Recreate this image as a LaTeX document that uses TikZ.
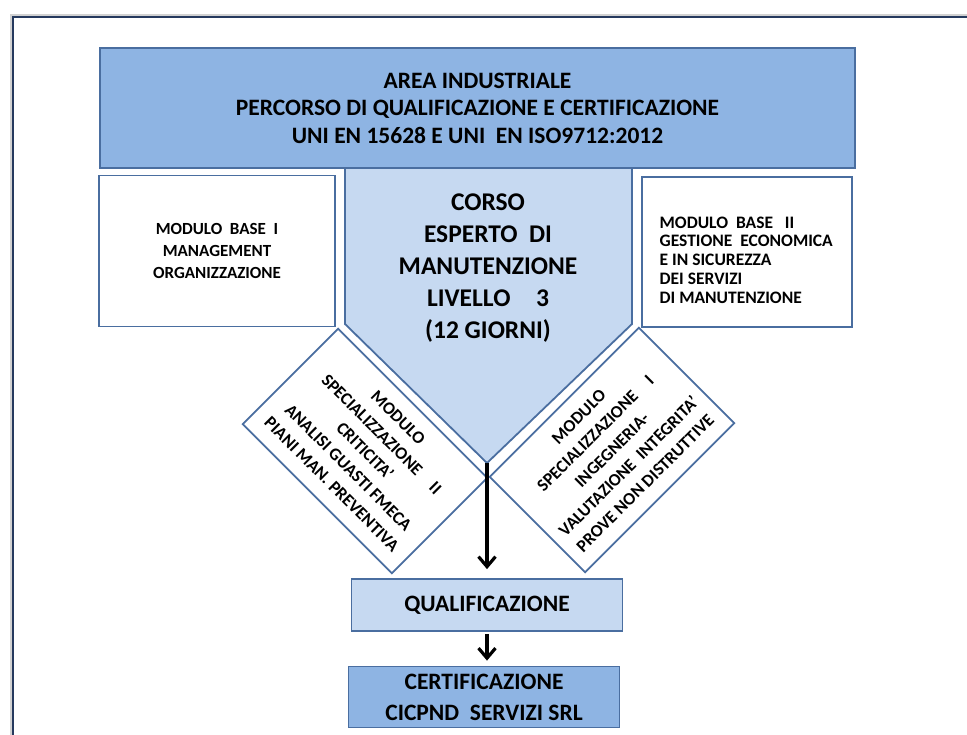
\documentclass[tikz,border=0pt]{standalone}
\usepackage{fontspec}
\setmainfont{Carlito}
\usetikzlibrary{
  arrows.meta,
  positioning,
  shadows
}
\definecolor{framenavy}{RGB}{38,58,94}
\definecolor{boxline}{RGB}{74,110,160}
\definecolor{midblue}{RGB}{142,180,227}
\definecolor{paleblue}{RGB}{198,217,241}

\begin{document}
\begin{tikzpicture}[
      x=1pt, y=-1pt,
      headbox/.style={
         rectangle,
         draw=boxline,
         line width=1.8pt,
         fill=midblue,
         align=center,
         inner sep=0pt,
         font=\bfseries\fontsize{23.5}{27.5}\selectfont
      },
      modulebox/.style={
         rectangle,
         draw=boxline,
         line width=1.8pt,
         fill=white,
         inner sep=0pt,
         font=\bfseries\fontsize{17}{22}\selectfont
      },
      turnbox/.style={
         modulebox,
         align=center,
         minimum width=211pt,
         minimum height=135pt,
         font=\bfseries\fontsize{17.5}{23.5}\selectfont
      },
      stepbox/.style={
         headbox,
         fill=paleblue
      },
      flow tip/.style={
         -{Straight Barb[length=10pt,width=17pt]},
         line width=3.2pt, black
      }
    ]
    \useasboundingbox (0,0) rectangle (967,735);
    \clip (0,0) rectangle (967,735);
    % frame
    \path[draw=framenavy, line width=2pt, fill=white,
          drop shadow={shadow xshift=-3pt, shadow yshift=3pt, fill=black!35}]
          (13,17) rectangle (1010,780);
    % course pentagon
    \draw[draw=boxline, line width=1.8pt, fill=paleblue]
          (345,168) -- (632,168) -- (632,324) -- (487,463) -- (345,324) -- cycle;
    \coordinate (tip) at (487,463);
    \node (n22) [align=center, font=\bfseries\fontsize{25.5}{32}\selectfont] at (488,268)
          {CORSO\\ESPERTO\ \ DI\\MANUTENZIONE\\LIVELLO\quad 3\\(12 GIORNI)};

    \node (n11) [headbox, minimum width=755pt, minimum height=120pt] at (477.5,108)
          {AREA INDUSTRIALE\\PERCORSO DI QUALIFICAZIONE E CERTIFICAZIONE\\UNI EN 15628 E UNI\ \ EN ISO9712:2012};
    \node (n21) [modulebox, align=center, minimum width=236pt, minimum height=151pt] at (217,251)
          {MODULO\ \ BASE\ \ I\\MANAGEMENT\\ORGANIZZAZIONE};
    \node (n23) [modulebox, minimum width=210pt, minimum height=150pt] at (747,252) {};
    \node (n23t) [anchor=west, align=left, font=\bfseries\fontsize{17.5}{18.8}\selectfont]
          at ([shift={(15,8)}]n23.west)
          {MODULO\ \ BASE\ \ \ II\\GESTIONE\ \ ECONOMICA\\E IN SICUREZZA\\DEI SERVIZI\\DI MANUTENZIONE};

    \node (n31) [turnbox, rotate=-45] at (365,451)
          {MODULO\\SPECIALIZZAZIONE\quad II\\CRITICITA'\\ANALISI GUASTI FMECA\\PIANI MAN. PREVENTIVA};
    \node (n32) [turnbox, rotate=45] at (612,450)
          {MODULO\\SPECIALIZZAZIONE\quad I\\INGEGNERIA-\\VALUTAZIONE\ \ INTEGRITA'\\PROVE NON DISTRUTTIVE};

    \node (n41) [stepbox, minimum width=271pt, minimum height=52pt] at (487,605) {QUALIFICAZIONE};
    \node (n42) [headbox, minimum width=271pt, minimum height=61pt, font=\bfseries\fontsize{23.5}{31}\selectfont]
          at (484,697) {CERTIFICAZIONE\\CICPND\ \ SERVIZI SRL};

    \draw[flow tip, shorten >=9pt] (tip) -- (tip |- n41.north);
    \draw[flow tip, shorten <=2pt, shorten >=5pt] (n41.south -| tip) -- (n42.north -| tip);
\end{tikzpicture}
\end{document}
